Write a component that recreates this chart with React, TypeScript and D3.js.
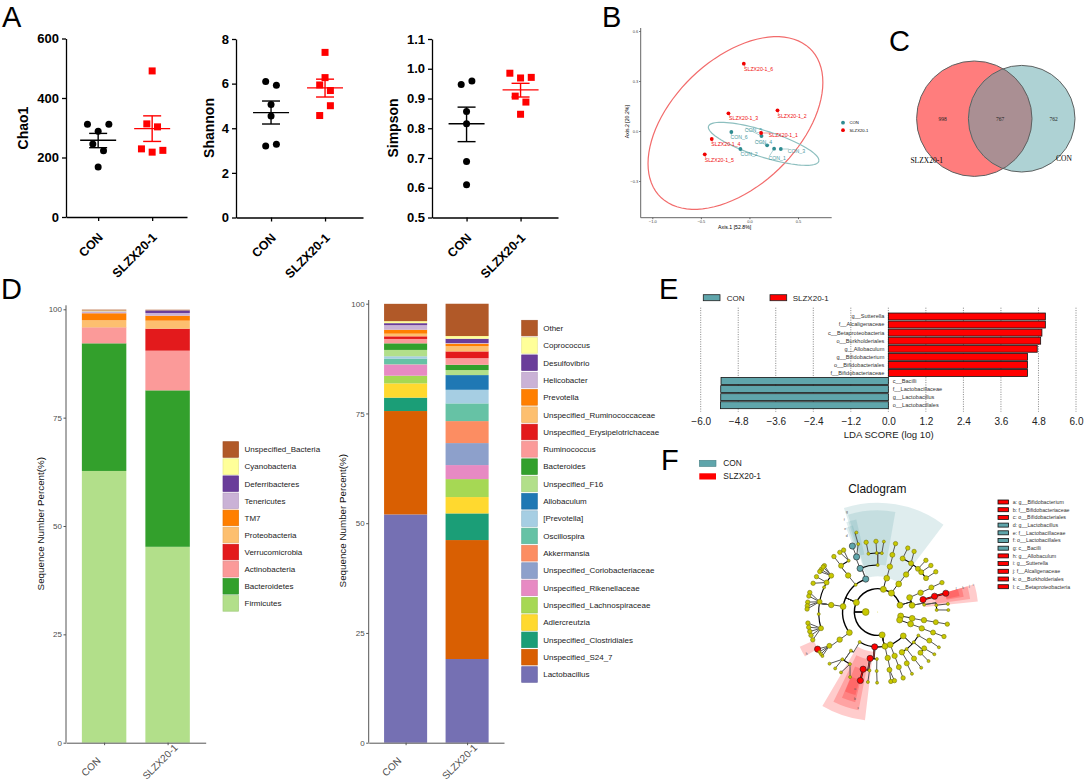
import { useEffect, useRef } from "react";
import * as d3 from "d3";

const sans = "'Liberation Sans', Arial, sans-serif";
const serif = "'Liberation Serif', serif";
const groups = ["CON", "SLZX20-1"];
const RED = "#ff0000";
const TEAL = "#5fa5ab";

// A: alpha diversity (slots = swarm column of each point)
const chaoCon = [312, 312, 288, 245, 223, 168];
const chaoConSlots = [-1, 1, 0, -0.5, 0.5, 0];
const chaoConStats = [258, 233, 281];
const chaoSlzx = [491, 313, 303, 229, 218, 224];
const chaoSlzxSlots = [0, -0.5, 0.5, -1, 0, 1];
const chaoSlzxStats = [297, 254, 340];
const chaoTicks = [0, 200, 400, 600];

const shannonCon = [6.09, 5.93, 5.07, 4.55, 3.21, 3.28];
const shannonConSlots = [-0.5, 0.5, 0, 0, -0.5, 0.5];
const shannonConStats = [4.7, 4.19, 5.22];
const shannonSlzx = [7.4, 6.27, 5.94, 5.69, 5.01, 4.57];
const shannonSlzxSlots = [0, 0, -0.5, 0.5, 0.5, -0.5];
const shannonSlzxStats = [5.81, 5.4, 6.2];
const shannonTicks = [0, 2, 4, 6, 8];

const simpsonCon = [0.947, 0.959, 0.856, 0.815, 0.688, 0.61];
const simpsonConSlots = [-0.5, 0.5, 0, 0, 0, 0];
const simpsonConStats = [0.815, 0.755, 0.871];
const simpsonSlzx = [0.985, 0.969, 0.971, 0.908, 0.888, 0.847];
const simpsonSlzxSlots = [-1, 0, 1, -0.5, 0.5, 0];
const simpsonSlzxStats = [0.929, 0.905, 0.951];
const simpsonTicks = [0.5, 0.6, 0.7, 0.8, 0.9, 1.0, 1.1];

// B: PCoA
const pcoaConNames = ["CON_1", "CON_2", "CON_3", "CON_4", "CON_5", "CON_6"];
const pcoaConX = [0.254, -0.093, 0.323, 0.182, 0.124, -0.186];
const pcoaConY = [-0.106, -0.108, -0.108, -0.086, -0.03, -0.006];
const pcoaConLabelX = [0.196, -0.093, 0.395, 0.055, -0.048, -0.196];
const pcoaConLabelY = [-0.162, -0.142, -0.12, -0.066, 0.006, -0.038];
const pcoaSlzxNames = ["SLZX20-1_1", "SLZX20-1_2", "SLZX20-1_3", "SLZX20-1_4", "SLZX20-1_5", "SLZX20-1_6"];
const pcoaSlzxX = [0.12, 0.289, -0.216, -0.388, -0.46, -0.058];
const pcoaSlzxY = [-0.012, 0.124, 0.106, -0.048, -0.14, 0.404];
const pcoaSlzxLabelX = [0.2, 0.289, -0.21, -0.392, -0.46, -0.055];
const pcoaSlzxLabelY = [-0.024, 0.09, 0.074, -0.082, -0.174, 0.37];
// centre x, centre y, half extent x, half extent y, correlation
const pcoaConEllipse = [0.146, -0.077, 0.569, 0.129, -0.77];
const pcoaSlzxEllipse = [-0.144, 0.048, 0.9, 0.518, 0.47];
const pcoaXTicks = [-1, -0.5, 0, 0.5];
const pcoaYTicks = [-0.3, 0, 0.3, 0.6];

// C: venn counts
const vennCounts = ["998", "767", "762"];

// D: stacked composition, bottom to top
const phylumNames = ["Firmicutes", "Bacteroidetes", "Actinobacteria", "Verrucomicrobia", "Proteobacteria", "TM7", "Tenericutes", "Deferribacteres", "Cyanobacteria", "Unspecified_Bacteria"];
const phylumCon = [62.7, 29.45, 3.62, 0.05, 1.65, 1.62, 0.38, 0.05, 0.2, 0.2];
const phylumSlzx = [45.2, 36.1, 9.15, 5.08, 1.85, 1.15, 0.62, 0.6, 0.03, 0.12];
const phylumColors = ["#b2df8a", "#33a02c", "#fb9a99", "#e31a1c", "#fdbf6f", "#ff7f00", "#cab2d6", "#6a3d9a", "#ffff99", "#b15928"];

const genusNames = ["Lactobacillus", "Unspecified_S24_7", "Unspecified_Clostridiales", "Adlercreutzia", "Unspecified_Lachnospiraceae", "Unspecified_Rikenellaceae", "Unspecified_Coriobacteriaceae", "Akkermansia", "Oscillospira", "[Prevotella]", "Allobaculum", "Unspecified_F16", "Bacteroides", "Ruminococcus", "Unspecified_Erysipelotrichaceae", "Unspecified_Ruminococcaceae", "Prevotella", "Helicobacter", "Desulfovibrio", "Coprococcus", "Other"];
const genusCon = [52.0, 23.55, 3.05, 3.25, 1.75, 2.5, 0.05, 0.05, 1.3, 0.5, 0.02, 1.45, 1.5, 1.0, 0.6, 0.6, 0.9, 1.05, 0.45, 0.45, 3.95];
const genusSlzx = [19.06, 27.1, 6.07, 3.72, 4.1, 3.19, 5.01, 5.01, 4.03, 3.1, 3.35, 1.15, 1.2, 1.5, 1.54, 1.22, 0.54, 0.15, 0.98, 0.61, 7.36];
const genusColors = ["#7570b3", "#d95f02", "#1b9e77", "#ffd92f", "#a6d854", "#e78ac3", "#8da0cb", "#fc8d62", "#66c2a5", "#a6cee3", "#1f78b4", "#b2df8a", "#33a02c", "#fb9a99", "#e31a1c", "#fdbf6f", "#ff7f00", "#cab2d6", "#6a3d9a", "#ffff99", "#b15928"];
const percentTicks = [0, 25, 50, 75, 100];

// E: LDA
const ldaTaxa = ["g__Sutterella", "f__Alcaligenaceae", "c__Betaproteobacteria", "o__Burkholderiales", "g__Allobaculum", "g__Bifidobacterium", "o__Bifidobacteriales", "f__Bifidobacteriaceae", "c__Bacilli", "f__Lactobacillaceae", "g__Lactobacillus", "o__Lactobacillales"];
const ldaScores = [5.02, 5.02, 4.91, 4.87, 4.76, 4.45, 4.45, 4.45, -5.35, -5.36, -5.36, -5.37];
const ldaTicks = [-6, -4.8, -3.6, -2.4, -1.2, 0, 1.2, 2.4, 3.6, 4.8, 6];

// F: cladogram
const cladeLegend = ["a: g__Bifidobacterium", "b: f__Bifidobacteriaceae", "c: o__Bifidobacteriales", "d: g__Lactobacillus", "e: f__Lactobacillaceae", "f: o__Lactobacillales", "g: c__Bacilli", "h: g__Allobaculum", "i: g__Sutterella", "j: f__Alcaligenaceae", "k: o__Burkholderiales", "l: c__Betaproteobacteria"];
const cladeLegendHits = ["slzx", "slzx", "slzx", "con", "con", "con", "con", "slzx", "slzx", "slzx", "slzx", "slzx"];
// [inner ring, outer ring, from angle, to angle] in ring units of 3 (reference) px
const conWedges = [[107, 328, 342, 397], [142, 305, 343, 370], [177, 285, 340.7, 347], [210, 270, 339.5, 344]];
const slzxWedges = [
  [120, 327, 186.7, 210.5], [145, 300, 191, 206.3], [177, 279, 194, 202.6], [210, 258, 195, 202.3],
  [210, 256, 238.5, 246],
  [142, 302, 74, 84], [176, 280, 74, 82], [210, 262, 74, 80], [210, 250, 74, 79],
];
// [letter, radius, angle]
const wedgeLetters: [string, number, number][] = [
  ["g", 315, 343], ["f", 294, 340], ["e", 269, 338.7], ["d", 247, 337.9],
  ["c", 292, 191.5], ["b", 268, 194.7], ["a", 239, 196.5], ["h", 247, 239.4],
  ["k", 267, 74], ["j", 286, 74], ["i", 298, 74.1], ["l", 245, 73.8],
];
const ringRadii = [0, 36, 70, 105, 141, 177, 212];
const nodeSizes = [0.4, 3.4, 3, 2.9, 2.7, 2.5, 2.2];
// the phylum ring stays open between these two angles
const phylumRingGap = [433, 460];

type Clade = { a: number; small?: boolean; hit?: string; kids?: Clade[] };
const n = (a: number, kids?: Clade[]): Clade => ({ a, kids });
const s = (a: number, kids?: Clade[]): Clade => ({ a, kids, small: true });
const red = (a: number, kids?: Clade[]): Clade => ({ a, kids, hit: "slzx" });
const con = (a: number, kids?: Clade[]): Clade => ({ a, kids, hit: "con" });

const cladeTree: Clade = n(270, [
  n(270, [
    n(294, [
      con(340, [
        con(338, [con(339, [con(339), s(344, [s(345)])])]),
        s(360, [s(351, [n(350.6)]), s(359, [n(358.6)]), s(364, [s(365)])]),
      ]),
      s(321, [n(321, [n(321.6, [n(321.7)]), s(330.5, [n(331.2), n(327.6)])])]),
      n(279, [
        n(278.5, [
          n(308, [n(311), n(307), n(304.9), n(309.5)]),
          n(300, [n(300), n(294)]),
          s(294.7),
          n(280, [n(286), n(283), n(278), n(275), n(272.4)]),
          s(268),
          n(254, [n(261), n(257.5), n(254), n(250.7), n(246.8)]),
        ]),
      ]),
      n(234, [n(234, [n(235, [red(238.3), s(235.6), s(231.5), s(233.5)])])]),
    ]),
    n(374, [n(375, [n(375, [n(374.4, [n(374.6)])])])]),
    n(396, [
      n(396.9, [
        n(397.2, [n(385, [n(385.2)]), n(394.4, [n(391)]), n(403, [n(403)]), n(407.5, [n(408.8)]), n(415, [n(415.3)])]),
      ]),
    ]),
    n(433, [
      n(425.6, [n(425.8, [n(425.4, [n(425.4)])])]),
      n(439, [
        red(434.7, [red(434.5, [red(434.6)])]),
        s(441, [s(443.4, [s(443.4)]), s(448, [s(448.4)])]),
      ]),
    ]),
    n(460, [n(460.4, [n(460, [n(459.9, [n(459.9)])])])]),
    n(470, [n(470, [n(470.4, [n(470.3, [n(470.3)])])])]),
    n(169, [
      s(211, [s(214.7, [s(216.7, [s(217), s(223)]), s(208, [s(211.3), s(203)])])]),
      red(185, [
        red(189.3, [red(194.3, [red(194.2)]), s(188, [s(188)])]),
        s(181, [s(181, [s(180.5)])]),
      ]),
      n(168, [n(167.7, [n(168.5, [n(169.3), n(166.3)])])]),
      n(159, [n(158.9, [n(159, [n(158.9)])])]),
      n(133, [
        n(149, [n(150.5, [s(151)])]),
        s(142, [n(142, [s(142)])]),
        s(130, [n(128, [s(126.7)]), n(133.6, [s(134)])]),
        s(120, [n(119, [s(120)])]),
      ]),
    ]),
  ]),
]);

type Sel = d3.Selection<any, any, any, any>;

function letter(svg: Sel, text: string, x: number, y: number) {
  svg.append("text").attr("x", x).attr("y", y).attr("font-family", sans).attr("font-size", 29).attr("fill", "#000").text(text);
}

function scatterPanel(svg: Sel, o: {
  x0: number; x1: number; y0: number; y1: number; domain: [number, number]; ticks: number[]; fmt: string; title: string; titleX: number;
  con: number[]; conSlots: number[]; conStats: number[]; slzx: number[]; slzxSlots: number[]; slzxStats: number[];
}) {
  const pad = ((o.x1 - o.x0) / 54 - 1) / 2;
  const x = d3.scalePoint().domain(groups).range([o.x0, o.x1]).padding(pad).align(0.48);
  const y = d3.scaleLinear().domain(o.domain).range([o.y0, o.y1]);
  const g = svg.append("g").attr("font-family", sans);

  const yAxis = g.append("g").attr("transform", `translate(${o.x0},0)`)
    .call(d3.axisLeft(y).tickValues(o.ticks).tickSize(4).tickSizeOuter(0).tickFormat(d3.format(o.fmt) as any));
  const xAxis = g.append("g").attr("transform", `translate(0,${o.y0})`)
    .call(d3.axisBottom(x).tickSize(4).tickSizeOuter(0));
  for (const ax of [yAxis, xAxis]) {
    ax.selectAll("path,line").attr("stroke", "#000").attr("stroke-width", 1.3);
    ax.selectAll("text").attr("font-family", sans).attr("font-weight", "bold").attr("font-size", 13).attr("fill", "#000");
  }
  xAxis.selectAll("text").attr("y", 0).attr("dy", ".35em").attr("text-anchor", "end").attr("font-size", 12.5).attr("transform", "translate(2,18) rotate(-45)");

  g.append("text").attr("transform", `translate(${o.titleX},128) rotate(-90)`).attr("text-anchor", "middle")
    .attr("font-weight", "bold").attr("font-size", 14).text(o.title);

  const step = 10.7;
  const series = [
    { key: groups[0], vals: o.con, slots: o.conSlots, stats: o.conStats, color: "#000" },
    { key: groups[1], vals: o.slzx, slots: o.slzxSlots, stats: o.slzxStats, color: RED },
  ];
  for (const d of series) {
    const cx = x(d.key)!;
    if (d.key === groups[0]) {
      g.selectAll(null).data(d.vals).enter().append("circle")
        .attr("cx", (_, i) => cx + d.slots[i] * step).attr("cy", (v) => y(v)).attr("r", 3.5).attr("fill", d.color);
    } else {
      g.selectAll(null).data(d.vals).enter().append("rect")
        .attr("x", (_, i) => cx + d.slots[i] * step - 3.5).attr("y", (v) => y(v) - 3.5).attr("width", 7).attr("height", 7).attr("fill", d.color);
    }
    const [mean, lo, hi] = d.stats;
    const segs = [[cx - 18, y(mean), cx + 18, y(mean)], [cx - 9, y(lo), cx + 9, y(lo)], [cx - 9, y(hi), cx + 9, y(hi)], [cx, y(lo), cx, y(hi)]];
    g.selectAll(null).data(segs).enter().append("line")
      .attr("x1", (q) => q[0]).attr("y1", (q) => q[1]).attr("x2", (q) => q[2]).attr("y2", (q) => q[3])
      .attr("stroke", d.color).attr("stroke-width", 1.4);
  }
}

function pcoaPanel(svg: Sel) {
  const x = d3.scaleLinear().domain([-1, 0.5]).range([652.3, 798]);
  const y = d3.scaleLinear().domain([-0.3, 0.6]).range([181, 31]);
  const g = svg.append("g").attr("font-family", sans);
  const ellipse = ([cx, cy, ax, by, rho]: number[]) => {
    const angles = d3.range(0, 361, 4).map((t) => (t * Math.PI) / 180);
    return d3.line<number>()
      .x((t) => x(cx + ax * Math.cos(t)))
      .y((t) => y(cy + by * (rho * Math.cos(t) + Math.sqrt(1 - rho * rho) * Math.sin(t))))(angles);
  };
  g.append("path").attr("d", ellipse(pcoaSlzxEllipse)).attr("fill", "none").attr("stroke", "#f26b6b").attr("stroke-width", 1.2);
  g.append("path").attr("d", ellipse(pcoaConEllipse)).attr("fill", "none").attr("stroke", "#8dbfbf").attr("stroke-width", 1.2);

  const yAxis = g.append("g").attr("transform", "translate(640.7,0)")
    .call(d3.axisLeft(y).tickValues(pcoaYTicks).tickSize(1.5).tickSizeOuter(0).tickPadding(1).tickFormat(d3.format(".1f") as any));
  const xAxis = g.append("g").attr("transform", "translate(0,217.7)")
    .call(d3.axisBottom(x).tickValues(pcoaXTicks).tickSize(1.5).tickSizeOuter(0).tickPadding(1).tickFormat(d3.format(".1f") as any));
  yAxis.select(".domain").attr("d", "M0,28V217.7");
  xAxis.select(".domain").attr("d", "M640.7,0H831.7");
  for (const ax of [yAxis, xAxis]) {
    ax.selectAll("path,line").attr("stroke", "#555").attr("stroke-width", 0.9);
    ax.selectAll("text").attr("font-family", sans).attr("font-size", 4).attr("fill", "#444");
  }
  g.append("text").attr("x", 734.7).attr("y", 228.5).attr("text-anchor", "middle").attr("font-size", 5.2).text("Axis.1 [52.8%]");
  g.append("text").attr("transform", "translate(628.5,121.7) rotate(-90)").attr("text-anchor", "middle").attr("font-size", 5.2).text("Axis.2 [20.2%]");

  const sets = [
    { names: pcoaConNames, xs: pcoaConX, ys: pcoaConY, lx: pcoaConLabelX, ly: pcoaConLabelY, fill: "#2f8c91", text: "#4d9a9f" },
    { names: pcoaSlzxNames, xs: pcoaSlzxX, ys: pcoaSlzxY, lx: pcoaSlzxLabelX, ly: pcoaSlzxLabelY, fill: "#f00000", text: "#f01010" },
  ];
  for (const d of sets) {
    d.names.forEach((name, i) => {
      g.append("line").attr("x1", x(d.xs[i])).attr("y1", y(d.ys[i])).attr("x2", x(d.lx[i]) + 1).attr("y2", y(d.ly[i]) - 2)
        .attr("stroke", d.fill).attr("stroke-width", 0.4);
      g.append("circle").attr("cx", x(d.xs[i])).attr("cy", y(d.ys[i])).attr("r", 1.9).attr("fill", d.fill);
      g.append("text").attr("x", x(d.lx[i])).attr("y", y(d.ly[i]) + 1.8).attr("font-size", 5.2).attr("fill", d.text).text(name);
    });
  }
  [[122.7, "#2f8c91"], [130.2, "#f00000"]].forEach(([ly, c], i) => {
    g.append("circle").attr("cx", 843).attr("cy", ly as number).attr("r", 1.9).attr("fill", c as string);
    g.append("text").attr("x", 849.5).attr("y", (ly as number) + 1.5).attr("font-size", 4.2).text(groups[i]);
  });
}

function vennPanel(svg: Sel) {
  const g = svg.append("g").attr("font-family", serif);
  g.append("clipPath").attr("id", "venn-left").append("circle").attr("cx", 974.3).attr("cy", 118.7).attr("r", 57.7);
  g.append("circle").attr("cx", 974.3).attr("cy", 118.7).attr("r", 57.7).attr("fill", "#ff7d7d");
  g.append("circle").attr("cx", 1021.7).attr("cy", 118.7).attr("r", 53.3).attr("fill", "#aed2d4");
  g.append("circle").attr("cx", 1021.7).attr("cy", 118.7).attr("r", 53.3).attr("fill", "#aa8f93").attr("clip-path", "url(#venn-left)");
  g.append("circle").attr("cx", 974.3).attr("cy", 118.7).attr("r", 57.7).attr("fill", "none").attr("stroke", "#5d6161").attr("stroke-width", 1);
  g.append("circle").attr("cx", 1021.7).attr("cy", 118.7).attr("r", 53.3).attr("fill", "none").attr("stroke", "#5d6161").attr("stroke-width", 1);
  [942.7, 1000, 1053.7].forEach((cx, i) => {
    g.append("text").attr("x", cx).attr("y", 121).attr("text-anchor", "middle").attr("font-size", 5.5).attr("fill", "#222").text(vennCounts[i]);
  });
  g.append("text").attr("x", 926.7).attr("y", 163).attr("text-anchor", "middle").attr("font-size", 7.5).text("SLZX20-1");
  g.append("text").attr("x", 1064).attr("y", 160.5).attr("text-anchor", "middle").attr("font-size", 7.5).text("CON");
}

function stackPanel(svg: Sel, o: {
  x0: number; x1: number; yTop: number; y100: number; names: string[]; con: number[]; slzx: number[]; colors: string[];
  swatchX: number; legendTop: number; legendStep: number; titleX: number; titleY: number; centre: [number, number][];
}) {
  const x = d3.scalePoint().domain(groups).range([o.x0, o.x1]).padding(0.6);
  const bw = x.step() * 0.7;
  const y = d3.scaleLinear().domain([0, 100]).range([742.7, o.y100]);
  const g = svg.append("g").attr("font-family", sans);
  const rows = groups.map((group, i) => {
    const row: any = { group };
    o.names.forEach((name, k) => (row[name] = (i === 0 ? o.con : o.slzx)[k]));
    return row;
  });
  const stacked = d3.stack().keys(o.names)(rows);
  stacked.forEach((layer, k) => {
    g.selectAll(null).data(layer).enter().append("rect")
      .attr("x", (d: any) => x(d.data.group)! - bw / 2).attr("width", bw)
      .attr("y", (d) => y(d[1])).attr("height", (d) => Math.max(0, y(d[0]) - y(d[1])))
      .attr("fill", o.colors[k]);
  });
  const yAxis = g.append("g").attr("transform", `translate(${o.x0},0)`)
    .call(d3.axisLeft(y).tickValues(percentTicks).tickSize(2.5).tickSizeOuter(0).tickPadding(1.5));
  yAxis.select(".domain").attr("d", `M0,${o.yTop}V742.7`);
  const xAxis = g.append("g").attr("transform", "translate(0,742.7)").call(d3.axisBottom(x).tickSize(2.5).tickSizeOuter(0));
  for (const ax of [yAxis, xAxis]) {
    ax.selectAll("path,line").attr("stroke", "#555").attr("stroke-width", 1);
    ax.selectAll("text").attr("font-family", sans).attr("font-size", 8).attr("fill", "#4d4d4d");
  }
  xAxis.selectAll("text").attr("y", 0).attr("dy", ".35em").attr("text-anchor", "middle").attr("font-size", 10)
    .attr("transform", (_: any, i: number) => `translate(${o.centre[i][0]},${o.centre[i][1]}) rotate(-45)`);
  g.append("text").attr("transform", `translate(${o.titleX},${o.titleY}) rotate(-90)`).attr("text-anchor", "middle")
    .attr("font-size", 9.8).attr("fill", "#111").text("Sequence Number Percent(%)");

  const order = o.names.map((name, k) => ({ name, color: o.colors[k] })).reverse();
  order.forEach((d, i) => {
    const top = o.legendTop + i * o.legendStep;
    g.append("rect").attr("x", o.swatchX).attr("y", top).attr("width", 15.6).attr("height", 15.6)
      .attr("fill", d.color).attr("stroke", d3.color(d.color)!.darker(0.25).formatHex()).attr("stroke-width", 0.7);
    g.append("text").attr("x", o.swatchX + 21.5).attr("y", top + 10.6).attr("font-size", 8).attr("fill", "#222").text(d.name);
  });
}

function ldaPanel(svg: Sel) {
  const x = d3.scaleLinear().domain([-6, 6]).range([700.7, 1076]);
  const y = d3.scaleBand().domain(ldaTaxa).range([311.9, 409.8]).padding(0.14);
  const g = svg.append("g").attr("font-family", sans);
  g.selectAll(null).data(ldaTicks).enter().append("line")
    .attr("x1", (d) => x(d)).attr("x2", (d) => x(d)).attr("y1", 307.7).attr("y2", 411.7)
    .attr("stroke", "#777").attr("stroke-width", 0.9).attr("stroke-dasharray", "1 1.4");
  g.selectAll(null).data(ldaTaxa).enter().append("rect")
    .attr("x", (_, i) => x(Math.min(0, ldaScores[i]))).attr("width", (_, i) => Math.abs(x(ldaScores[i]) - x(0)))
    .attr("y", (d) => y(d)!).attr("height", y.bandwidth())
    .attr("fill", (_, i) => (ldaScores[i] > 0 ? RED : TEAL)).attr("stroke", "#111").attr("stroke-width", 0.8);
  g.selectAll(null).data(ldaTaxa).enter().append("text")
    .attr("x", (_, i) => (ldaScores[i] > 0 ? x(0) - 4 : x(0) + 4.4)).attr("y", (d) => y(d)! + y.bandwidth() / 2 + 1.9)
    .attr("text-anchor", (_, i) => (ldaScores[i] > 0 ? "end" : "start")).attr("font-size", 5.6).attr("fill", "#333").text((d) => d);
  const axis = g.append("g").attr("transform", "translate(0,417.5)")
    .call(d3.axisBottom(x).tickValues(ldaTicks).tickSize(0).tickPadding(0).tickFormat(d3.format(".1f") as any));
  axis.select(".domain").remove();
  axis.selectAll("text").attr("font-family", sans).attr("font-size", 10).attr("fill", "#222");
  g.append("text").attr("x", 888.7).attr("y", 437.8).attr("text-anchor", "middle").attr("font-size", 9.6).attr("fill", "#222").text("LDA SCORE (log 10)");
  [[703.3, 726.7, TEAL], [770, 792.7, RED]].forEach(([sx, tx, c], i) => {
    g.append("rect").attr("x", sx).attr("y", 294.7).attr("width", 16.7).attr("height", 6).attr("fill", c as string).attr("stroke", "#222").attr("stroke-width", 0.8);
    g.append("text").attr("x", tx).attr("y", 300.6).attr("font-size", 8).attr("fill", "#222").text(groups[i]);
  });
}

function cladogramPanel(svg: Sel) {
  const g0 = svg.append("g").attr("font-family", sans);
  [[460.3, TEAL], [473.3, RED]].forEach(([ly, c], i) => {
    g0.append("rect").attr("x", 699.3).attr("y", ly).attr("width", 16.7).attr("height", 6.2).attr("fill", c as string).attr("stroke", c === RED ? "none" : "#4a8086").attr("stroke-width", 0.6);
    g0.append("text").attr("x", 723.3).attr("y", (ly as number) + 6).attr("font-size", 8.4).attr("fill", "#222").text(groups[i]);
  });
  g0.append("text").attr("x", 877.3).attr("y", 493).attr("text-anchor", "middle").attr("font-size", 11.9).attr("fill", "#111").text("Cladogram");

  // ring units are the 3x crop's, so one scale maps them all
  const radius = d3.scaleLinear().domain([0, 327]).range([0, 109]);
  const rad = (deg: number) => (deg * Math.PI) / 180;
  const ring = d3.scaleLinear().domain(ringRadii.map((_, i) => i)).range(ringRadii);
  const g = g0.append("g").attr("transform", "translate(877.7,612)");
  const wedge = d3.arc<number[]>()
    .innerRadius((d) => radius(d[0])).outerRadius((d) => radius(d[1]))
    .startAngle((d) => rad(d[2])).endAngle((d) => rad(d[3]));
  g.selectAll(null).data(conWedges).enter().append("path").attr("d", wedge as any).attr("fill", TEAL).attr("fill-opacity", 0.2);
  g.selectAll(null).data(slzxWedges).enter().append("path").attr("d", wedge as any).attr("fill", RED).attr("fill-opacity", 0.2);

  const root = d3.hierarchy(cladeTree, (d) => d.kids);
  const rOf = (d: d3.HierarchyNode<Clade>) => radius(ring(d.depth));
  const pt = (a: number, r: number) => d3.pointRadial(rad(a), r);

  const arcPath = d3.arc<any>();
  root.descendants().filter((d) => d.children && d.depth > 0).forEach((p) => {
    const kids = p.children!;
    const fan = kids[0].depth === 6;
    kids.forEach((k) => {
      const [x1, y1] = pt(p.data.a, rOf(p));
      const [x2, y2] = fan ? pt(k.data.a, rOf(k)) : pt(p.data.a, rOf(k));
      if (p.data.hit === "slzx" && k.data.hit === "slzx") {
        g.append("line").attr("x1", x1).attr("y1", y1).attr("x2", x2).attr("y2", y2).attr("stroke", "#111").attr("stroke-width", 2);
        g.append("line").attr("x1", x1).attr("y1", y1).attr("x2", x2).attr("y2", y2).attr("stroke", RED).attr("stroke-width", 1);
      } else {
        g.append("line").attr("x1", x1).attr("y1", y1).attr("x2", x2).attr("y2", y2)
          .attr("stroke", p.depth < 3 ? "#222" : "#555").attr("stroke-width", 1);
      }
    });
    if (!fan) {
      const angles = [p.data.a, ...kids.map((k) => k.data.a)];
      const r = rOf(kids[0]);
      const spans = p.depth === 1
        ? [[d3.min(angles)!, phylumRingGap[0]], [phylumRingGap[1], d3.max(angles)!]]
        : [[d3.min(angles)!, d3.max(angles)!]];
      spans.forEach(([a0, a1]) => {
        g.append("path").attr("fill", "none").attr("stroke", "#000").attr("stroke-width", p.depth < 3 ? 1.4 : 1.1)
          .attr("d", arcPath({ innerRadius: r, outerRadius: r, startAngle: rad(a0), endAngle: rad(a1) }));
      });
    }
  });
  root.descendants().forEach((d) => {
    const [cx, cy] = pt(d.data.a, rOf(d));
    const hit = d.data.hit;
    const size = hit ? 3.1 : d.data.small ? 1.5 : nodeSizes[d.depth];
    g.append("circle").attr("cx", cx).attr("cy", cy).attr("r", size)
      .attr("fill", hit === "slzx" ? RED : hit === "con" ? TEAL : "#c8c800")
      .attr("stroke", hit ? "#222" : "#77770f").attr("stroke-width", d.depth === 0 ? 0 : 0.6);
  });
  wedgeLetters.forEach(([t, r, a]) => {
    const [cx, cy] = pt(a, radius(r));
    g.append("text").attr("x", cx).attr("y", cy + 1.2).attr("text-anchor", "middle").attr("font-size", 3.5).attr("fill", "#555").text(t);
  });

  cladeLegend.forEach((t, i) => {
    const ly = 502 + i * 7.7;
    g0.append("rect").attr("x", 998).attr("y", ly - 2).attr("width", 10.6).attr("height", 4)
      .attr("fill", cladeLegendHits[i] === "con" ? TEAL : RED).attr("stroke", "#111").attr("stroke-width", 0.8);
    g0.append("text").attr("x", 1012.7).attr("y", ly + 1.8).attr("font-size", 5.3).attr("fill", "#333").text(t);
  });
}

export default function App() {
  const svgRef = useRef<SVGSVGElement>(null);

  useEffect(() => {
    const svg = d3.select(svgRef.current);
    svg.selectAll("*").remove();

    letter(svg, "A", 2, 27);
    letter(svg, "B", 602, 27);
    letter(svg, "C", 889, 51);
    letter(svg, "D", 1, 299);
    letter(svg, "E", 659, 299);
    letter(svg, "F", 661, 470);

    scatterPanel(svg, { x0: 66, x1: 187, y0: 217, y1: 38.5, domain: [0, 600], ticks: chaoTicks, fmt: "d", title: "Chao1", titleX: 28,
      con: chaoCon, conSlots: chaoConSlots, conStats: chaoConStats, slzx: chaoSlzx, slzxSlots: chaoSlzxSlots, slzxStats: chaoSlzxStats });
    scatterPanel(svg, { x0: 236, x1: 363, y0: 217.5, y1: 39, domain: [0, 8], ticks: shannonTicks, fmt: "d", title: "Shannon", titleX: 214,
      con: shannonCon, conSlots: shannonConSlots, conStats: shannonConStats, slzx: shannonSlzx, slzxSlots: shannonSlzxSlots, slzxStats: shannonSlzxStats });
    scatterPanel(svg, { x0: 432, x1: 558, y0: 217.5, y1: 39, domain: [0.5, 1.1], ticks: simpsonTicks, fmt: ".1f", title: "Simpson", titleX: 398,
      con: simpsonCon, conSlots: simpsonConSlots, conStats: simpsonConStats, slzx: simpsonSlzx, slzxSlots: simpsonSlzxSlots, slzxStats: simpsonSlzxStats });

    pcoaPanel(svg);
    vennPanel(svg);

    stackPanel(svg, { x0: 66, x1: 205.7, yTop: 305.3, y100: 309.3, names: phylumNames, con: phylumCon, slzx: phylumSlzx, colors: phylumColors,
      swatchX: 223, legendTop: 441.7, legendStep: 17.1, titleX: 43.5, titleY: 523.7, centre: [[-13.6, 24], [-8, 19]] });
    stackPanel(svg, { x0: 368.7, x1: 504, yTop: 300, y100: 303.7, names: genusNames, con: genusCon, slzx: genusSlzx, colors: genusColors,
      swatchX: 521.7, legendTop: 320.3, legendStep: 17.32, titleX: 345.5, titleY: 520.7, centre: [[-14.4, 24], [-8, 19]] });

    ldaPanel(svg);
    cladogramPanel(svg);
  }, []);

  return (
    <svg ref={svgRef} width={1084} height={781} style={{ position: "absolute", left: 0, top: 0, background: "#fff" }} />
  );
}
